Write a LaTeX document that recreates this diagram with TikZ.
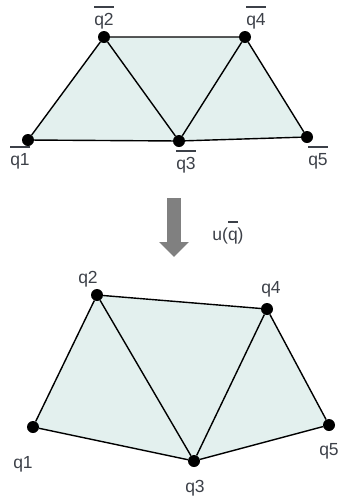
\documentclass[tikz,border=0pt]{standalone}
\usepackage{fontspec}
\setmainfont{Liberation Sans}
\usetikzlibrary{arrows.meta,backgrounds}
\definecolor{meshfill}{RGB}{227,240,238}
\definecolor{labelgray}{RGB}{60,64,72}
\definecolor{arrowgray}{RGB}{128,128,128}
\newcommand{\ovl}[1]{\sbox0{#1}\rlap{\rule[1.0em]{\wd0}{1.3pt}}\usebox0}

\begin{document}
\begin{tikzpicture}[x=1pt,y=-1pt,
  vertex/.style={circle, fill=black, inner sep=0pt, minimum size=12pt},
  edge/.style={black, line width=1.4pt},
  vlabel/.style={anchor=base, inner sep=0pt, text=labelgray, font=\fontsize{17.5}{21}\selectfont}]
\useasboundingbox (0,0) rectangle (338,496);
% mesh before the map
\node[vertex] (qb1) at (28,140) {};
\node[vertex] (qb2) at (104,37) {};
\node[vertex] (qb3) at (179,141) {};
\node[vertex] (qb4) at (245,37) {};
\node[vertex] (qb5) at (307,137) {};
\begin{scope}[on background layer]
\fill[meshfill] (qb1.center) -- (qb2.center) -- (qb4.center) -- (qb5.center) -- (qb3.center) -- cycle;
\end{scope}
\draw[edge] (qb1) -- (qb2) -- (qb3) -- (qb1);
\draw[edge] (qb2) -- (qb4) -- (qb3) -- (qb5) -- (qb4);
\node[vlabel] (lb1) at (20,165) {\ovl{q1}};
\node[vlabel] (lb2) at (104,25) {\ovl{q2}};
\node[vlabel] (lb3) at (186,169) {\ovl{q3}};
\node[vlabel] (lb4) at (256,25) {\ovl{q4}};
\node[vlabel] (lb5) at (318,165) {\ovl{q5}};
% the map u
\coordinate (arrtop) at (174,198);
\coordinate (arrtip) at (174,257);
\draw[arrowgray, line width=14pt, -{Triangle[length=15pt, width=29pt]}] (arrtop) -- (arrtip);
\node[vlabel] (ulab) at (228,240) {u(\ovl{q})};
% mesh after the map
\node[vertex] (q1) at (33,427) {};
\node[vertex] (q2) at (97,295) {};
\node[vertex] (q3) at (194,461) {};
\node[vertex] (q4) at (267,309) {};
\node[vertex] (q5) at (329,425) {};
\begin{scope}[on background layer]
\fill[meshfill] (q1.center) -- (q2.center) -- (q4.center) -- (q5.center) -- (q3.center) -- cycle;
\end{scope}
\draw[edge] (q1) -- (q2) -- (q3) -- (q1);
\draw[edge] (q2) -- (q4) -- (q3) -- (q5) -- (q4);
\node[vlabel] (l1) at (23,468) {q1};
\node[vlabel] (l2) at (88,283) {q2};
\node[vlabel] (l3) at (195,492) {q3};
\node[vlabel] (l4) at (271,293) {q4};
\node[vlabel] (l5) at (329,455) {q5};
\end{tikzpicture}
\end{document}
